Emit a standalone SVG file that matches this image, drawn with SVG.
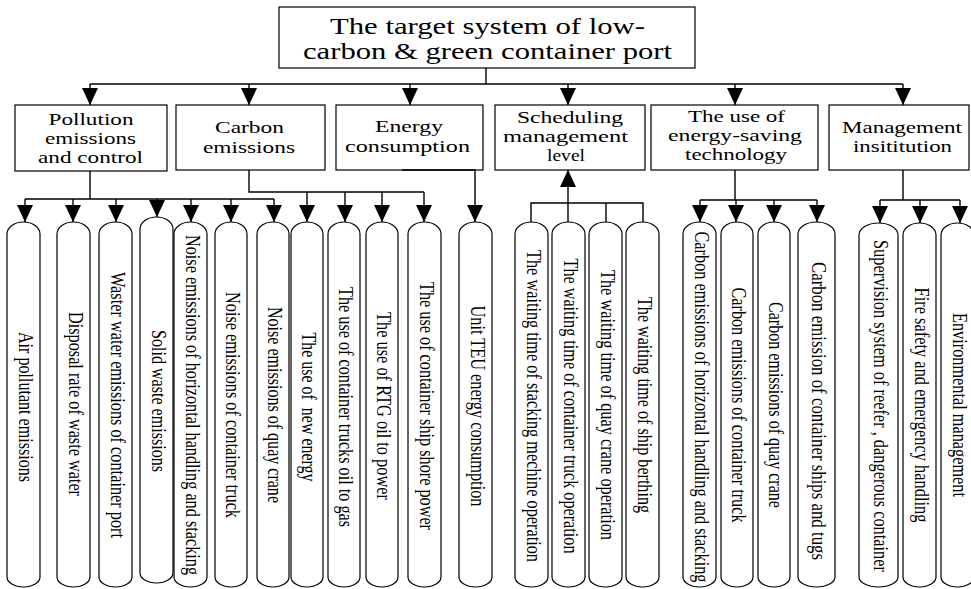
<svg xmlns="http://www.w3.org/2000/svg" width="971" height="589" viewBox="0 0 971 589">
<style>
.bx{fill:#fff;stroke:#000;stroke-width:1.2}
.ln{fill:none;stroke:#000;stroke-width:1.4}
.ar{fill:none;stroke:#000;stroke-width:1.4;marker-end:url(#ah)}
.t{font-family:"Liberation Serif","Times New Roman",serif;fill:#000;text-anchor:middle}
.t1{font-size:23px}
.t2{font-size:17.5px}
.t3{font-size:16px}
</style>
<defs>
<marker id="ah" viewBox="0 0 17 16" refX="17" refY="8" markerWidth="17" markerHeight="16" markerUnits="userSpaceOnUse" orient="auto">
<path d="M0,0 L17,8 L0,16 Z" fill="#000"/>
</marker>
</defs>

<g id="root">
<rect class="bx" x="279" y="7" width="416" height="61"/>
<text class="t t1" x="487.5" y="34" textLength="315" lengthAdjust="spacingAndGlyphs">The target system of low-</text>
<text class="t t1" x="487.5" y="59" textLength="369" lengthAdjust="spacingAndGlyphs">carbon &amp; green container port</text>
</g>

<g id="pollution">
<rect class="bx" x="15" y="105" width="152" height="66"/>
<text class="t t2" x="91" y="125" textLength="85" lengthAdjust="spacingAndGlyphs">Pollution</text>
<text class="t t2" x="90.5" y="144" textLength="91" lengthAdjust="spacingAndGlyphs">emissions</text>
<text class="t t2" x="90.5" y="163" textLength="105" lengthAdjust="spacingAndGlyphs">and control</text>
</g>
<g id="carbon">
<rect class="bx" x="176" y="105" width="149" height="65"/>
<text class="t t2" x="249.5" y="133" textLength="69" lengthAdjust="spacingAndGlyphs">Carbon</text>
<text class="t t2" x="249" y="153" textLength="92" lengthAdjust="spacingAndGlyphs">emissions</text>
</g>
<g id="energy">
<rect class="bx" x="336" y="105" width="147" height="65"/>
<text class="t t2" x="409" y="132" textLength="68" lengthAdjust="spacingAndGlyphs">Energy</text>
<text class="t t2" x="407.5" y="152" textLength="125" lengthAdjust="spacingAndGlyphs">consumption</text>
</g>
<g id="scheduling">
<rect class="bx" x="495" y="105" width="150" height="65"/>
<text class="t t2" x="570" y="123" textLength="106" lengthAdjust="spacingAndGlyphs">Scheduling</text>
<text class="t t2" x="565.5" y="142" textLength="125" lengthAdjust="spacingAndGlyphs">management</text>
<text class="t t2" x="566" y="161" textLength="38" lengthAdjust="spacingAndGlyphs">level</text>
</g>
<g id="technology">
<rect class="bx" x="651" y="105" width="167" height="65"/>
<text class="t t2" x="736.5" y="122" textLength="97" lengthAdjust="spacingAndGlyphs">The use of</text>
<text class="t t2" x="735" y="141" textLength="134" lengthAdjust="spacingAndGlyphs">energy-saving</text>
<text class="t t2" x="736" y="160" textLength="102" lengthAdjust="spacingAndGlyphs">technology</text>
</g>
<g id="institution">
<rect class="bx" x="829" y="105" width="140" height="65"/>
<text class="t t2" x="902" y="133" textLength="120" lengthAdjust="spacingAndGlyphs">Management</text>
<text class="t t2" x="902.5" y="152" textLength="99" lengthAdjust="spacingAndGlyphs">insititution</text>
</g>

<g id="connectors">
<path class="ln" d="M486,68 V84 M90,84 H903"/>
<path class="ar" d="M90,84 V105"/>
<path class="ar" d="M249,84 V105"/>
<path class="ar" d="M410,84 V105"/>
<path class="ar" d="M568,84 V105"/>
<path class="ar" d="M735,84 V105"/>
<path class="ar" d="M903,84 V105"/>

<path class="ln" d="M90,171 V199 M25,199 H274"/>
<path class="ar" d="M25,199 V222"/>
<path class="ar" d="M73,199 V222"/>
<path class="ar" d="M116,199 V222"/>
<path class="ar" d="M157,199 V217"/>
<path class="ar" d="M191,199 V222"/>
<path class="ar" d="M231,199 V222"/>
<path class="ar" d="M274,199 V222"/>

<path class="ln" d="M249,170 V192 H424"/>
<path class="ar" d="M307,192 V222"/>
<path class="ar" d="M345,192 V222"/>
<path class="ar" d="M382,192 V222"/>
<path class="ar" d="M424,192 V222"/>

<path class="ar" d="M402,170 H475 V222"/>

<path class="ar" d="M568,203 V170"/>
<path class="ln" d="M531,222 V203 H643 V222 M568,203 V222 M606,203 V222"/>

<path class="ln" d="M735,170 V200 M700,200 H817"/>
<path class="ar" d="M700,200 V222"/>
<path class="ar" d="M736,200 V222"/>
<path class="ar" d="M774,200 V222"/>
<path class="ar" d="M817,200 V222"/>

<path class="ln" d="M903,170 V200 M880,200 H960"/>
<path class="ar" d="M880,200 V223"/>
<path class="ar" d="M920,200 V223"/>
<path class="ar" d="M960,200 V223"/>
</g>

<g id="leaf1"><path class="bx" d="M7,234 A16.5,12 0 0 1 40,234 V577 A16.5,10 0 0 1 7,577 Z"/><text class="t t3" transform="translate(18.5,407) rotate(90) scale(1,1.3)" textLength="150" lengthAdjust="spacingAndGlyphs">Air pollutant emissions</text></g>
<g id="leaf2"><path class="bx" d="M57,234 A16.5,12 0 0 1 90,234 V577 A16.5,10 0 0 1 57,577 Z"/><text class="t t3" transform="translate(68.5,404) rotate(90) scale(1,1.3)" textLength="184" lengthAdjust="spacingAndGlyphs">Disposal rate of waste water</text></g>
<g id="leaf3"><path class="bx" d="M99,234 A16.5,12 0 0 1 132,234 V577 A16.5,10 0 0 1 99,577 Z"/><text class="t t3" transform="translate(110.5,405) rotate(90) scale(1,1.3)" textLength="266" lengthAdjust="spacingAndGlyphs">Waster water emissions of container port</text></g>
<g id="leaf4"><path class="bx" d="M140,229 A16.5,12 0 0 1 173,229 V573 A16.5,10 0 0 1 140,573 Z"/><text class="t t3" transform="translate(151.5,401) rotate(90) scale(1,1.3)" textLength="142" lengthAdjust="spacingAndGlyphs">Solid waste emissions</text></g>
<g id="leaf5"><path class="bx" d="M174,234 A16.5,12 0 0 1 207,234 V577 A16.5,10 0 0 1 174,577 Z"/><text class="t t3" transform="translate(185.5,405) rotate(90) scale(1,1.3)" textLength="340" lengthAdjust="spacingAndGlyphs">Noise emissions of horizontal handling and stacking</text></g>
<g id="leaf6"><path class="bx" d="M215,234 A16,12 0 0 1 247,234 V577 A16,10 0 0 1 215,577 Z"/><text class="t t3" transform="translate(226,405) rotate(90) scale(1,1.3)" textLength="226" lengthAdjust="spacingAndGlyphs">Noise emissions of container truck</text></g>
<g id="leaf7"><path class="bx" d="M257,234 A16,12 0 0 1 289,234 V577 A16,10 0 0 1 257,577 Z"/><text class="t t3" transform="translate(268,405) rotate(90) scale(1,1.3)" textLength="196" lengthAdjust="spacingAndGlyphs">Noise emissions of quay crane</text></g>
<g id="leaf8"><path class="bx" d="M291,234 A16,12 0 0 1 323,234 V577 A16,10 0 0 1 291,577 Z"/><text class="t t3" xml:space="preserve" transform="translate(302,407) rotate(90) scale(1,1.3)" textLength="149" lengthAdjust="spacingAndGlyphs">The use of  new energy</text></g>
<g id="leaf9"><path class="bx" d="M328,234 A16,12 0 0 1 360,234 V577 A16,10 0 0 1 328,577 Z"/><text class="t t3" transform="translate(339,407) rotate(90) scale(1,1.3)" textLength="240" lengthAdjust="spacingAndGlyphs">The use of container trucks oil to gas</text></g>
<g id="leaf10"><path class="bx" d="M366,234 A16,12 0 0 1 398,234 V577 A16,10 0 0 1 366,577 Z"/><text class="t t3" transform="translate(377,406) rotate(90) scale(1,1.3)" textLength="188" lengthAdjust="spacingAndGlyphs">The use of RTG oil to power</text></g>
<g id="leaf11"><path class="bx" d="M408,234 A16.5,12 0 0 1 441,234 V577 A16.5,10 0 0 1 408,577 Z"/><text class="t t3" transform="translate(419.5,406) rotate(90) scale(1,1.3)" textLength="248" lengthAdjust="spacingAndGlyphs">The use of container ship shore power</text></g>
<g id="leaf12"><path class="bx" d="M459,234 A16.5,12 0 0 1 492,234 V577 A16.5,10 0 0 1 459,577 Z"/><text class="t t3" transform="translate(470.5,406) rotate(90) scale(1,1.3)" textLength="201" lengthAdjust="spacingAndGlyphs">Unit TEU energy consumption</text></g>
<g id="leaf13"><path class="bx" d="M515,234 A16.5,12 0 0 1 548,234 V577 A16.5,10 0 0 1 515,577 Z"/><text class="t t3" transform="translate(526.5,406) rotate(90) scale(1,1.3)" textLength="312" lengthAdjust="spacingAndGlyphs">The waiting time of stacking mechine operation</text></g>
<g id="leaf14"><path class="bx" d="M552,234 A16.5,12 0 0 1 585,234 V577 A16.5,10 0 0 1 552,577 Z"/><text class="t t3" transform="translate(563.5,406) rotate(90) scale(1,1.3)" textLength="295" lengthAdjust="spacingAndGlyphs">The waiting time of container truck operation</text></g>
<g id="leaf15"><path class="bx" d="M589,234 A16.5,12 0 0 1 622,234 V577 A16.5,10 0 0 1 589,577 Z"/><text class="t t3" transform="translate(600.5,405) rotate(90) scale(1,1.3)" textLength="270" lengthAdjust="spacingAndGlyphs">The waiting time of quay crane operation</text></g>
<g id="leaf16"><path class="bx" d="M626,234 A16.5,12 0 0 1 659,234 V577 A16.5,10 0 0 1 626,577 Z"/><text class="t t3" transform="translate(637.5,405) rotate(90) scale(1,1.3)" textLength="216" lengthAdjust="spacingAndGlyphs">The waiting time of ship berthing</text></g>
<g id="leaf17"><path class="bx" d="M683,234 A16.5,12 0 0 1 716,234 V577 A16.5,10 0 0 1 683,577 Z"/><text class="t t3" transform="translate(694.5,407) rotate(90) scale(1,1.3)" textLength="351" lengthAdjust="spacingAndGlyphs">Carbon emissions of horizontal handling and stacking</text></g>
<g id="leaf18"><path class="bx" d="M721,234 A16,12 0 0 1 753,234 V577 A16,10 0 0 1 721,577 Z"/><text class="t t3" transform="translate(732,405) rotate(90) scale(1,1.3)" textLength="235" lengthAdjust="spacingAndGlyphs">Carbon emissions of container truck</text></g>
<g id="leaf19"><path class="bx" d="M758,234 A16,12 0 0 1 790,234 V577 A16,10 0 0 1 758,577 Z"/><text class="t t3" transform="translate(769,405) rotate(90) scale(1,1.3)" textLength="206" lengthAdjust="spacingAndGlyphs">Carbon emissions of quay crane</text></g>
<g id="leaf20"><path class="bx" d="M798,234 A18.5,12 0 0 1 835,234 V577 A18.5,10 0 0 1 798,577 Z"/><text class="t t3" transform="translate(811.5,411) rotate(90) scale(1,1.3)" textLength="298" lengthAdjust="spacingAndGlyphs">Carbon emission of container ships and tugs</text></g>
<g id="leaf21"><path class="bx" d="M859,235 A19.5,12 0 0 1 898,235 V577 A19.5,10 0 0 1 859,577 Z"/><text class="t t3" transform="translate(873.5,406) rotate(90) scale(1,1.3)" textLength="332" lengthAdjust="spacingAndGlyphs">Supervision system of reefer , dangerous container</text></g>
<g id="leaf22"><path class="bx" d="M903,235 A16.5,12 0 0 1 936,235 V577 A16.5,10 0 0 1 903,577 Z"/><text class="t t3" transform="translate(914.5,405) rotate(90) scale(1,1.3)" textLength="235" lengthAdjust="spacingAndGlyphs">Fire safety and emergency handling</text></g>
<g id="leaf23"><path class="bx" d="M941,235 A16.5,12 0 0 1 974,235 V577 A16.5,10 0 0 1 941,577 Z"/><text class="t t3" transform="translate(952.5,405) rotate(90) scale(1,1.3)" textLength="184" lengthAdjust="spacingAndGlyphs">Environmental management</text></g>
</svg>
